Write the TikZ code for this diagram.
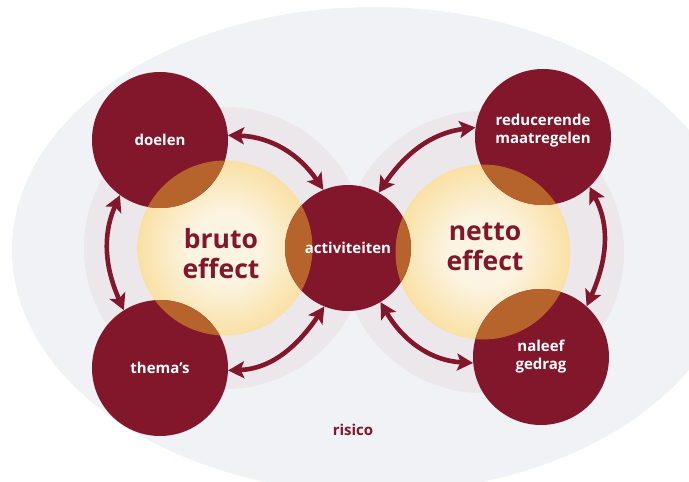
\documentclass[tikz,border=0pt]{standalone}
\usepackage{fontspec}
\setmainfont{Open Sans}
\usetikzlibrary{arrows.meta, positioning}
\definecolor{mybg}{RGB}{241,242,246}
\definecolor{myred}{RGB}{130,22,42}
\definecolor{myring}{RGB}{220,206,211}
\definecolor{myringin}{RGB}{236,231,235}
\definecolor{myyellow}{RGB}{245,192,62}
\definecolor{mycream}{RGB}{252,244,226}
\definecolor{myoverlap}{RGB}{182,100,44}
\pgfdeclareradialshading{ringshade}{\pgfpoint{0bp}{0bp}}{color(0bp)=(myringin); color(36bp)=(myringin); color(49bp)=(myring); color(50bp)=(myring)}
\pgfdeclareradialshading{glowshade}{\pgfpoint{0bp}{0bp}}{color(0bp)=(mycream); color(10bp)=(mycream); color(50bp)=(myyellow)}
\tikzset{
  bigcirc/.style={circle, fill=myred, minimum size=136pt, inner sep=0pt},
  midcirc/.style={circle, fill=myred, minimum size=126pt, inner sep=0pt},
  glow/.style={circle, shade, shading=glowshade, minimum size=175pt, inner sep=0pt},
  lbl/.style={text=white, font=\bfseries\fontsize{15}{18}\selectfont, align=center},
  efflbl/.style={text=myred, font=\bfseries\fontsize{26.5}{30}\selectfont, align=center},
  rsklbl/.style={text=myred, font=\bfseries\fontsize{15}{18}\selectfont},
  dblarrow/.style={{Stealth[length=16pt,width=17pt,inset=3.5pt]}-{Stealth[length=16pt,width=17pt,inset=3.5pt]},
    line width=4.6pt, color=myred}
}
\begin{document}
\begin{tikzpicture}[x=1pt, y=-1pt]
  \useasboundingbox (0,0) rectangle (689,482);
  \clip (0,0) rectangle (689,482);

  % background and rings
  \fill[mybg] (374,250) ellipse [x radius=362pt, y radius=243pt];
  \shade[shading=ringshade] (225,248) circle [radius=141pt];
  \shade[shading=ringshade] (483,252) circle [radius=141pt];

  % effect circles
  \node[glow] (bruto) at (225,248) {};
  \node[glow] (netto) at (483,252) {};

  % red circles
  \node[bigcirc] (doelen) at (160,140) {};
  \node[bigcirc] (themas) at (160,368) {};
  \node[midcirc] (activ) at (348,248) {};
  \node[bigcirc] (maatr) at (543,137) {};
  \node[bigcirc] (naleef) at (541,357) {};

  % overlaps
  \begin{scope}
    \clip (bruto) circle [radius=87.5pt];
    \fill[myoverlap] (doelen) circle [radius=68pt] (themas) circle [radius=68pt]
      (activ) circle [radius=63pt];
  \end{scope}
  \begin{scope}
    \clip (netto) circle [radius=87.5pt];
    \fill[myoverlap] (maatr) circle [radius=68pt] (naleef) circle [radius=68pt]
      (activ) circle [radius=63pt];
  \end{scope}

  % arrows
  \draw[dblarrow] (doelen.4) to[out=-2, in=124] (activ.113);
  \draw[dblarrow] (doelen.234) to[out=246, in=114] (themas.122);
  \draw[dblarrow] (themas.-2) to[out=2, in=236] (activ.248);
  \draw[dblarrow] (activ.61) to[out=56, in=187] (maatr.172);
  \draw[dblarrow] (maatr.-47) to[out=-62, in=66] (naleef.48);
  \draw[dblarrow] (activ.-59) to[out=-60, in=177] (naleef.185);

  % labels
  \node[lbl] at (doelen) {doelen};
  \node[lbl] at (themas) {thema’s};
  \node[lbl] at (activ) {activiteiten};
  \node[lbl] at ([yshift=6pt]maatr) {reducerende\\maatregelen};
  \node[lbl] at (naleef) {naleef\\gedrag};
  \node[efflbl] at ([xshift=-4pt, yshift=-6pt]bruto) {bruto\\effect};
  \node[efflbl] at ([xshift=2pt, yshift=5pt]netto) {netto\\effect};
  \node[rsklbl] (risico) at (353,430) {risico};
\end{tikzpicture}
\end{document}
